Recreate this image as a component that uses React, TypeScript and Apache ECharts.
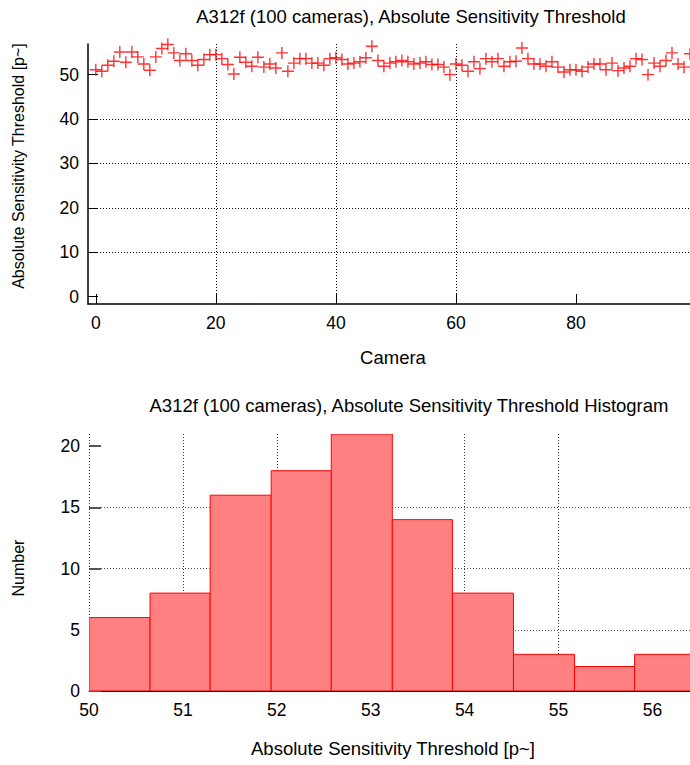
import React, { useEffect, useRef } from "react";
import * as echarts from "echarts";

// ---- data ----
const cameraValues: number[] = [
  51.1, 50.75, 52.1, 53.0, 55.1, 52.8, 55.1, 54.0, 52.4, 51.0,
  54.0, 55.9, 56.8, 54.9, 53.2, 54.7, 53.2, 52.1, 53.4, 54.5,
  54.5, 53.6, 52.3, 50.15, 53.9, 52.8, 51.9, 53.9, 51.7, 52.4,
  51.5, 54.9, 50.75, 52.6, 53.6, 53.6, 52.6, 52.6, 52.1, 53.6,
  53.8, 53.4, 52.4, 52.6, 52.9, 53.8, 56.4, 53.2, 51.9, 52.6,
  52.9, 53.2, 52.9, 52.4, 52.6, 52.9, 52.3, 52.3, 51.7, 50.0,
  52.4, 52.1, 50.75, 52.9, 51.35, 53.6, 52.9, 53.6, 51.9, 52.9,
  53.0, 56.0, 53.6, 52.4, 52.4, 51.9, 52.9, 51.7, 50.6, 51.1,
  51.1, 50.75, 51.7, 52.4, 52.4, 51.1, 52.6, 50.9, 51.5, 51.9,
  53.6, 53.4, 50.0, 52.6, 51.9, 53.2, 54.9, 52.4, 51.7, 54.7,
];
const binEdges: number[] = [50.0, 50.65, 51.29, 51.94, 52.58, 53.23, 53.87, 54.52, 55.17, 55.81, 56.46];
const binCounts: number[] = [6, 8, 16, 18, 21, 14, 8, 3, 2, 3];

const topXTicks: number[] = [0, 20, 40, 60, 80];
const topYTicks: number[] = [0, 10, 20, 30, 40, 50];
const botXTicks: number[] = [50, 51, 52, 53, 54, 55, 56];
const botYTicks: number[] = [0, 5, 10, 15, 20];

const title1 = "A312f (100 cameras), Absolute Sensitivity Threshold";
const title2 = "A312f (100 cameras), Absolute Sensitivity Threshold Histogram";
const yName1 = "Absolute Sensitivity Threshold [p~]";
const xName1 = "Camera";
const yName2 = "Number";
const xName2 = "Absolute Sensitivity Threshold [p~]";

const FONT = "'Liberation Sans', Arial, Helvetica, sans-serif";

export default function App() {
  const ref = useRef<HTMLDivElement>(null);
  useEffect(() => {
    if (!ref.current) return;
    const chart = echarts.init(ref.current, null, { renderer: "svg" });

    const scatterData = cameraValues.map((v, i) => [i, v]);
    const histData = binCounts.map((c, i) => [binEdges[i], binEdges[i + 1], c]);

    const labelStyle = { color: "#000", fontSize: 17.5, fontFamily: FONT };
    const mkText = (text: string, x: number, y: number, size: number, rot = 0) => ({
      type: "text",
      x,
      y,
      rotation: rot,
      style: {
        text,
        fontSize: size,
        fontFamily: FONT,
        fill: "#000",
        align: "center",
        verticalAlign: "middle",
      },
    });

    const option: any = {
      animation: false,
      backgroundColor: "#fff",
      grid: [
        { left: 88, top: 44, width: 602, height: 260 },
        { left: 89, top: 434, width: 601, height: 257 },
      ],
      xAxis: [
        {
          type: "value",
          gridIndex: 0,
          min: -1.3,
          max: 99,
          axisLine: { show: true, onZero: false, lineStyle: { color: "#000", width: 1.5 } },
          axisTick: { show: true, inside: true, length: 10, customValues: topXTicks, lineStyle: { color: "#000" } },
          axisLabel: {
            ...labelStyle,
            margin: 10,
            customValues: topXTicks,
            formatter: (v: number) => (topXTicks.includes(v) ? String(v) : ""),
          },
          splitLine: { show: true, showMinLine: false, showMaxLine: false, lineStyle: { color: "#000", type: [1, 2], width: 1 } },
        },
        {
          type: "value",
          gridIndex: 1,
          min: 50,
          max: 56.4,
          axisLine: { show: true, onZero: false, lineStyle: { color: "#000", width: 1 } },
          axisTick: { show: true, inside: true, length: 10, customValues: botXTicks, lineStyle: { color: "#555" } },
          axisLabel: {
            ...labelStyle,
            margin: 10,
            customValues: botXTicks,
            formatter: (v: number) => (botXTicks.includes(v) ? String(v) : ""),
          },
          splitLine: { show: true, showMinLine: true, showMaxLine: false, lineStyle: { color: "#333", type: [1, 2], width: 1 } },
        },
      ],
      yAxis: [
        {
          type: "value",
          gridIndex: 0,
          min: -1.64,
          max: 56.9,
          axisLine: { show: true, onZero: false, lineStyle: { color: "#000", width: 1.5 } },
          axisTick: { show: true, inside: true, length: 10, customValues: topYTicks, lineStyle: { color: "#000" } },
          axisLabel: {
            ...labelStyle,
            margin: 9,
            customValues: topYTicks,
            formatter: (v: number) => (topYTicks.includes(v) ? String(v) : ""),
          },
          splitLine: { show: true, showMinLine: false, showMaxLine: false, lineStyle: { color: "#000", type: [1, 2], width: 1 } },
        },
        {
          type: "value",
          gridIndex: 1,
          min: 0,
          max: 21,
          axisLine: { show: false },
          axisTick: { show: true, inside: true, length: 12, customValues: botYTicks, lineStyle: { color: "#555", width: 2 } },
          axisLabel: {
            ...labelStyle,
            margin: 9,
            customValues: botYTicks,
            formatter: (v: number) => (botYTicks.includes(v) ? String(v) : ""),
          },
          splitLine: { show: true, showMinLine: false, showMaxLine: false, lineStyle: { color: "#555", type: [1, 2], width: 1 } },
        },
      ],
      series: [
        {
          type: "scatter",
          xAxisIndex: 0,
          yAxisIndex: 0,
          data: scatterData,
          symbol: "path://M0,5L10,5M5,0L5,10",
          symbolSize: 12,
          clip: true,
          itemStyle: { color: "#ff0000", borderColor: "#ff0000", borderWidth: 1.4 },
        },
        {
          type: "custom",
          xAxisIndex: 1,
          yAxisIndex: 1,
          clip: true,
          encode: { x: [0, 1], y: 2 },
          data: histData,
          renderItem: (params: any, api: any) => {
            const p0 = api.coord([api.value(0), api.value(2)]);
            const p1 = api.coord([api.value(1), 0]);
            return {
              type: "rect",
              shape: { x: p0[0], y: p0[1], width: p1[0] - p0[0], height: p1[1] - p0[1] },
              style: { fill: "#ff8080", stroke: "#ff0000", lineWidth: 1 },
            };
          },
        },
      ],
      graphic: [
        mkText(title1, 411, 16, 18.5),
        mkText(yName1, 18, 166, 16, Math.PI / 2),
        mkText(xName1, 393, 357, 18.5),
        mkText(title2, 409, 405, 18.5),
        mkText(yName2, 18, 568, 16, Math.PI / 2),
        mkText(xName2, 393, 748, 18.5),
      ],
    };
    chart.setOption(option);
    return () => chart.dispose();
  }, []);
  return (
    <div
      ref={ref}
      style={{ position: "absolute", left: 0, top: 0, width: 690, height: 765 }}
    />
  );
}
